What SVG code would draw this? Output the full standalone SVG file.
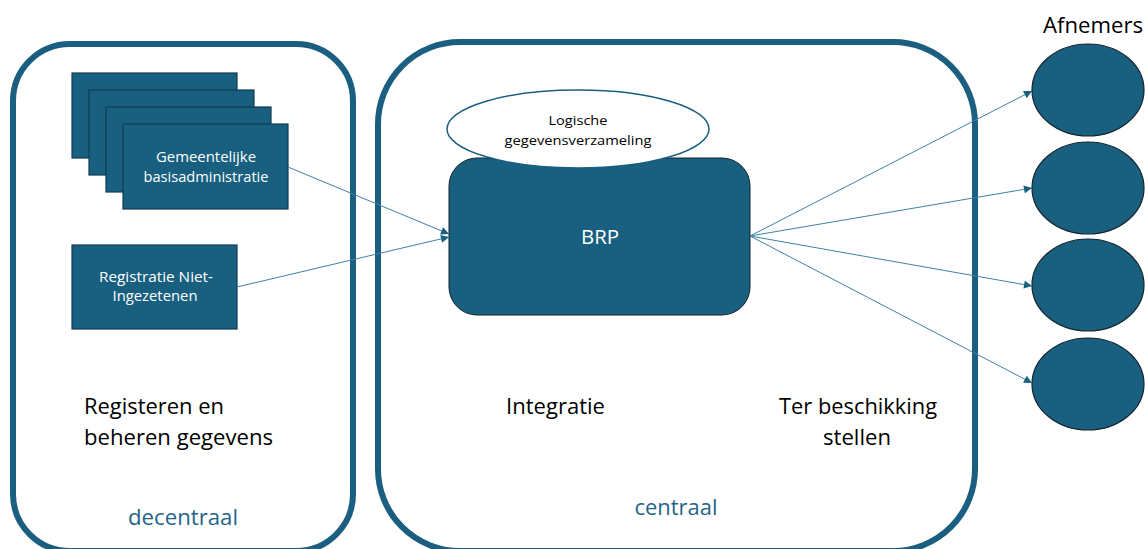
<svg xmlns="http://www.w3.org/2000/svg" width="1145" height="549" viewBox="0 0 1145 549">
<defs>
<style>
.cont{fill:none;stroke:#1a5e80;stroke-width:6}
.box{fill:#185f80;stroke:#0f3b52;stroke-width:1.2}
.oval{fill:#185f80;stroke:#13222b;stroke-width:1.2}
text{font-family:"Open Sans","Noto Sans",sans-serif}
.wt{fill:#ffffff;text-anchor:middle}
.bt{fill:#000000}
.ct{fill:#1f6488;text-anchor:middle}
.conn{fill:none;stroke:#3f82a6;stroke-width:1}
</style>
<marker id="ah" viewBox="0 0 10 10" refX="10" refY="5" markerWidth="9" markerHeight="8" markerUnits="userSpaceOnUse" orient="auto">
<path d="M0,0 L10,5 L0,10 z" fill="#185f80"/>
</marker>
</defs>
<rect width="1145" height="549" fill="#ffffff"/>

<g id="decentraal">
<rect class="cont" x="13" y="44" width="340" height="507" rx="57" ry="57"/>
<text class="bt" x="84" y="414" font-size="21" textLength="140" lengthAdjust="spacingAndGlyphs">Registeren en</text>
<text class="bt" x="84" y="445" font-size="21" textLength="189" lengthAdjust="spacingAndGlyphs">beheren gegevens</text>
<text class="ct" x="183" y="525" font-size="21" textLength="110" lengthAdjust="spacingAndGlyphs">decentraal</text>
</g>

<g id="centraal">
<rect class="cont" x="378" y="42" width="597" height="509" rx="82" ry="82"/>
<text class="bt" x="506" y="414" font-size="21" textLength="99" lengthAdjust="spacingAndGlyphs">Integratie</text>
<text class="bt" x="858" y="414" font-size="21" text-anchor="middle" textLength="158" lengthAdjust="spacingAndGlyphs">Ter beschikking</text>
<text class="bt" x="857" y="445" font-size="21" text-anchor="middle" textLength="68" lengthAdjust="spacingAndGlyphs">stellen</text>
<text class="ct" x="676" y="515" font-size="21" textLength="83" lengthAdjust="spacingAndGlyphs">centraal</text>
</g>

<g id="gba">
<rect class="box" x="72" y="73" width="165" height="85"/>
<rect class="box" x="89" y="90" width="165" height="85"/>
<rect class="box" x="106" y="107" width="165" height="85"/>
<rect class="box" x="123" y="124" width="165" height="85"/>
<text class="wt" x="206" y="162" font-size="14" textLength="100" lengthAdjust="spacingAndGlyphs">Gemeentelijke</text>
<text class="wt" x="206" y="182" font-size="14" textLength="125" lengthAdjust="spacingAndGlyphs">basisadministratie</text>
</g>

<g id="rni">
<rect class="box" x="72" y="245" width="165" height="84"/>
<text class="wt" x="156" y="282" font-size="14" textLength="114" lengthAdjust="spacingAndGlyphs">Registratie Niet-</text>
<text class="wt" x="155" y="301" font-size="14" textLength="85" lengthAdjust="spacingAndGlyphs">Ingezetenen</text>
</g>

<g id="brp">
<rect x="449" y="158" width="301" height="157" rx="28" ry="28" fill="#185f80" stroke="#13222b" stroke-width="1"/>
<text class="wt" x="600" y="244" font-size="20" textLength="38" lengthAdjust="spacingAndGlyphs">BRP</text>
</g>

<g id="logisch">
<ellipse cx="578" cy="129" rx="131" ry="39" fill="#ffffff" stroke="#1a5e80" stroke-width="1.5"/>
<text x="578" y="125" font-size="13" text-anchor="middle" fill="#000" textLength="59" lengthAdjust="spacingAndGlyphs">Logische</text>
<text x="578" y="145" font-size="13" text-anchor="middle" fill="#000" textLength="147" lengthAdjust="spacingAndGlyphs">gegevensverzameling</text>
</g>

<g id="afnemers">
<text class="bt" x="1043" y="33" font-size="21" textLength="100" lengthAdjust="spacingAndGlyphs">Afnemers</text>
<ellipse id="afnemer1" class="oval" cx="1088" cy="90" rx="56" ry="46"/>
<ellipse id="afnemer2" class="oval" cx="1088" cy="188" rx="56" ry="46"/>
<ellipse id="afnemer3" class="oval" cx="1088" cy="285" rx="56" ry="46"/>
<ellipse id="afnemer4" class="oval" cx="1088" cy="384" rx="56" ry="46"/>
</g>

<g id="connectors">
<line class="conn" x1="288" y1="167" x2="449" y2="234" marker-end="url(#ah)"/>
<line class="conn" x1="237" y1="287" x2="449" y2="237" marker-end="url(#ah)"/>
<line class="conn" x1="750" y1="236" x2="1032" y2="91" marker-end="url(#ah)"/>
<line class="conn" x1="750" y1="236" x2="1032" y2="188" marker-end="url(#ah)"/>
<line class="conn" x1="750" y1="236" x2="1032" y2="286" marker-end="url(#ah)"/>
<line class="conn" x1="750" y1="236" x2="1032" y2="383" marker-end="url(#ah)"/>
</g>
</svg>
